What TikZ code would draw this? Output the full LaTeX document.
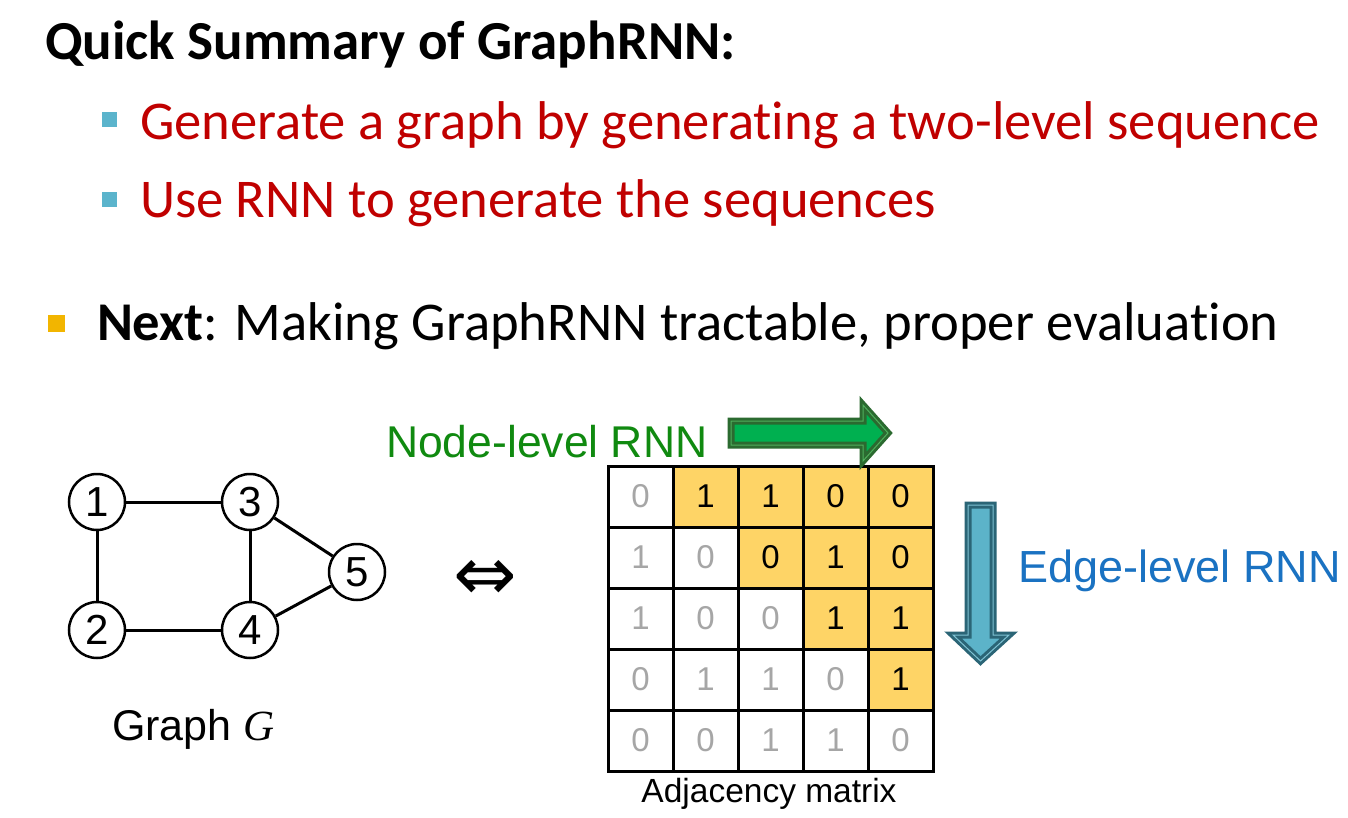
\documentclass[tikz,border=0pt]{standalone}
\usepackage{fontspec}
\setmainfont{Carlito}[Ligatures=NoCommon]
\newfontfamily\arial{Liberation Sans}
\newfontfamily\serifit{Liberation Serif}
\newfontfamily\symfont{DejaVu Sans}
\definecolor{titred}{HTML}{C00000}
\definecolor{bulblue}{HTML}{5BB4CC}
\definecolor{bulorange}{HTML}{F2B500}
\definecolor{cellyellow}{HTML}{FED466}
\definecolor{numgray}{HTML}{A6A6A6}
\definecolor{nodegreen}{HTML}{108A10}
\definecolor{edgeblue}{HTML}{1A72C2}
\definecolor{arrgreen}{HTML}{00B050}
\definecolor{arrgreendark}{HTML}{2B6A30}
\definecolor{arrgreenlight}{HTML}{4FAF5C}
\definecolor{arrblue}{HTML}{5CB3C9}
\definecolor{arrbluedark}{HTML}{2B6576}
\definecolor{arrbluelight}{HTML}{7FC2D3}
\begin{document}
\begin{tikzpicture}[x=1pt,y=-1pt,
  txt/.style={anchor=base west, inner sep=0pt, outer sep=0pt},
  bigfont/.style={font=\fontsize{54.6}{60}\selectfont},
  gnode/.style={circle, draw, line width=2.5pt, minimum size=56pt, inner sep=0pt,
    font=\arial\fontsize{42}{42}\selectfont},
  gedge/.style={line width=3pt},
  cell/.style={draw, line width=3pt, minimum width=65pt, minimum height=61pt,
    inner sep=0pt, font=\arial\fontsize{33}{33}\selectfont},
  hi/.style={fill=cellyellow, text=black},
  lo/.style={fill=white, text=numgray},
  bigarrow/.style={line width=7pt, line join=miter},
  innerline/.style={line width=1pt, line join=miter}
]
\useasboundingbox (0,0) rectangle (1348,818);
\fill[white] (0,0) rectangle (1348,818);

% title and bullets
\node[txt, font=\bfseries\fontsize{55}{60}\selectfont] (title) at (45,60) {Quick Summary of GraphRNN:};
\fill[bulblue] (102,112) rectangle (117,127);
\node[txt, bigfont, text=titred] (b1) at (140,140) {Generate a graph by generating a two-level sequence};
\fill[bulblue] (102,192) rectangle (117,207);
\node[txt, bigfont, text=titred] (b2) at (140,218) {Use RNN to generate the sequences};
\fill[bulorange] (48,315) rectangle (65,332);
\node[txt, bigfont] (next) at (97,340) {\textbf{Next}: Making GraphRNN tractable, proper evaluation};

% graph
\node[gnode] (n1) at (97,502) {1};
\node[gnode] (n3) at (250,502) {3};
\node[gnode] (n2) at (97,630) {2};
\node[gnode] (n4) at (250,630) {4};
\node[gnode] (n5) at (357,572) {5};
\draw[gedge] (n1) -- (n3);
\draw[gedge] (n1) -- (n2);
\draw[gedge] (n3) -- (n4);
\draw[gedge] (n2) -- (n4);
\draw[gedge] (n3) -- (n5);
\draw[gedge] (n4) -- (n5);
\node[txt, font=\arial\fontsize{43}{43}\selectfont] (glabel) at (112,740) {Graph {\serifit\itshape G}};

% equivalence
\node[inner sep=0pt, font=\symfont\fontsize{76}{76}\selectfont] (equiv) at (485,580) {⇔};

% matrix
\foreach \r/\vals in {1/{0,1,1,0,0},2/{1,0,0,1,0},3/{1,0,0,1,1},4/{0,1,1,0,1},5/{0,0,1,1,0}}{
  \foreach \v [count=\c] in \vals {
    \ifnum\c>\r \def\sty{hi}\else\def\sty{lo}\fi
    \node[cell,\sty] (m-\r-\c) at ({575.5+65*\c},{435.5+61*\r}) {\v};
  }
}
\node[anchor=base, inner sep=0pt, font=\arial\fontsize{33.5}{33}\selectfont] (adj) at (769,802) {Adjacency matrix};

% node-level arrow
\node[txt, text=nodegreen, font=\arial\fontsize{44.5}{44}\selectfont] (nlabel) at (386,457) {Node-level RNN};
\path[bigarrow, fill=arrgreen, draw=arrgreendark]
  (731,421) -- (863,421) -- (863,405) -- (888,433) -- (863,461) -- (863,445) -- (731,445) -- cycle;
\draw[innerline, draw=arrgreenlight]
  (731,421) -- (863,421) -- (863,405) -- (888,433) -- (863,461) -- (863,445) -- (731,445) -- cycle;

% edge-level arrow
\node[txt, text=edgeblue, font=\arial\fontsize{45}{44}\selectfont] (elabel) at (1018,582) {Edge-level RNN};
\path[bigarrow, fill=arrblue, draw=arrbluedark]
  (968,505) -- (993,505) -- (993,635) -- (1009,635) -- (980.5,661) -- (953,635) -- (968,635) -- cycle;
\draw[innerline, draw=arrbluelight]
  (968,505) -- (993,505) -- (993,635) -- (1009,635) -- (980.5,661) -- (953,635) -- (968,635) -- cycle;
\end{tikzpicture}
\end{document}
